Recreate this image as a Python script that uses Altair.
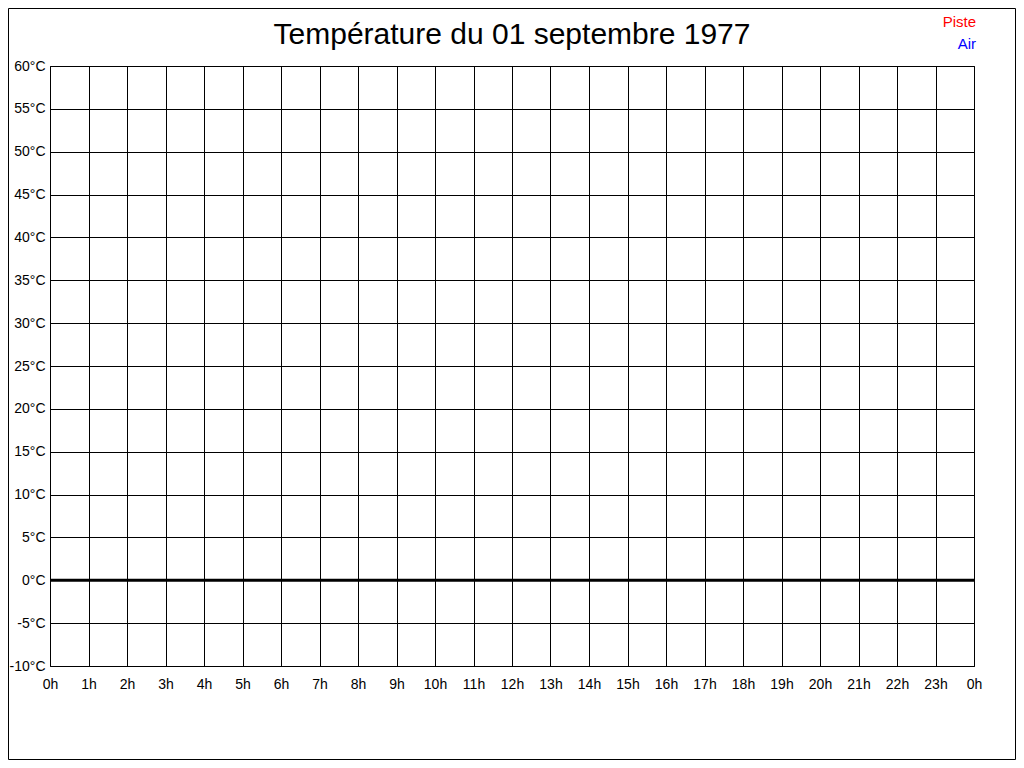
import altair as alt
import pandas as pd

# Chart content
TITLE = "Température du 01 septembre 1977"
SERIES = ["Piste", "Air"]
COLORS = ["#ff0000", "#0000ff"]
HOUR_TICKS = list(range(0, 25))
TEMP_TICKS = list(range(-10, 61, 5))

# No measurements recorded on this day
piste_hours = []
piste_temps = []
air_hours = []
air_temps = []

FONT = "Liberation Sans"
PLOT_W = 924
PLOT_H = 600

x_scale = alt.Scale(domain=[0, 24], nice=False, zero=False)
y_scale = alt.Scale(domain=[-10, 60], nice=False, zero=False)

df = pd.DataFrame({
    "heure": piste_hours + air_hours,
    "temp": piste_temps + air_temps,
    "serie": ["Piste"] * len(piste_hours) + ["Air"] * len(air_hours),
})

lines = alt.Chart(df).mark_line(strokeWidth=1.5).encode(
    x=alt.X("heure:Q", scale=x_scale, title=None,
            axis=alt.Axis(values=HOUR_TICKS, labelExpr="(datum.value % 24) + 'h'",
                          labelPadding=11, labelFlush=False, labelOverlap=False)),
    y=alt.Y("temp:Q", scale=y_scale, title=None,
            axis=alt.Axis(values=TEMP_TICKS, labelExpr="datum.value + '°C'",
                          labelPadding=5, labelFlush=False, labelOverlap=False)),
    color=alt.Color("serie:N", scale=alt.Scale(domain=SERIES, range=COLORS), legend=None),
)

zero = alt.Chart(pd.DataFrame({"temp": [0]})).mark_rule(color="black", strokeWidth=3).encode(
    y=alt.Y("temp:Q", scale=y_scale)
)

# title drawn as text so it is not pushed above the frame
title = alt.Chart(pd.DataFrame({"t": [TITLE]})).mark_text(
    align="center", baseline="alphabetic", font=FONT, fontSize=30, color="black"
).encode(text="t:N", x=alt.value(PLOT_W / 2), y=alt.value(-22))

# colored legend labels, top right
legend = []
for name, col, dy in zip(SERIES, COLORS, [-39, -17]):
    legend.append(
        alt.Chart(pd.DataFrame({"serie": [name]})).mark_text(
            align="right", baseline="alphabetic", font=FONT, fontSize=15, color=col
        ).encode(text="serie:N", x=alt.value(PLOT_W + 2), y=alt.value(dy))
    )

# outer frame around the whole picture
frame = alt.Chart(pd.DataFrame({"a": [0]})).mark_rect(
    fill=None, stroke="black", strokeWidth=1
).encode(
    x=alt.value(-41.5), x2=alt.value(PLOT_W + 41.5),
    y=alt.value(-57.5), y2=alt.value(PLOT_H + 93.5),
)

chart = alt.layer(lines, zero, title, *legend, frame).properties(
    width=PLOT_W,
    height=PLOT_H,
    autosize=alt.AutoSizeParams(type="none"),
    padding={"left": 42, "top": 58, "right": 42, "bottom": 94},
).configure_view(
    stroke="black", strokeWidth=1
).configure_axis(
    grid=True, gridColor="black", gridOpacity=1, gridWidth=1,
    domain=False, ticks=False,
    labelFont=FONT, labelFontSize=14, labelColor="black",
)

chart.save("out.html", embed_options={"renderer": "svg", "actions": False})
